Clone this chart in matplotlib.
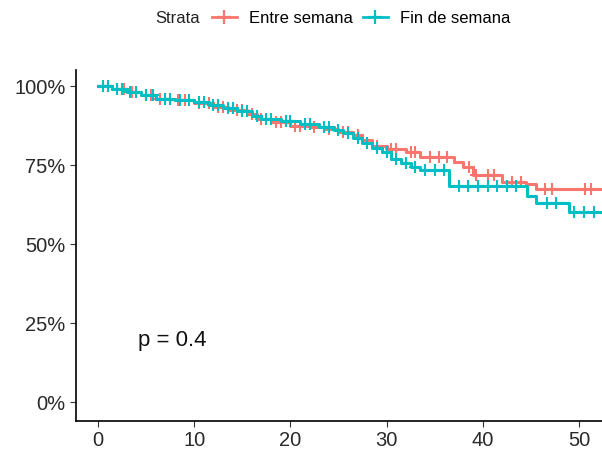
import numpy as np
import matplotlib.pyplot as plt
from matplotlib.lines import Line2D

plt.rcParams['font.family'] = ['Liberation Sans', 'DejaVu Sans']

#   Kaplan-Meier steps (time, survival)
t_entre = [0, 1.5, 3, 4.5, 6, 8, 10, 12, 13.5, 15.5, 16.5, 18, 20, 22, 23.5, 25,
           26.5, 27.5, 28.5, 30, 32, 33.5, 37, 38, 39, 42, 44.5, 45.5, 53]
s_entre = [1.0, 0.99, 0.98, 0.97, 0.96, 0.955, 0.945, 0.935, 0.925, 0.91, 0.895, 0.885,
           0.875, 0.87, 0.865, 0.855, 0.845, 0.83, 0.81, 0.80, 0.79, 0.775, 0.76, 0.745,
           0.72, 0.695, 0.69, 0.675, 0.675]
c_entre = [0.5, 1, 2, 2.7, 3.5, 4, 5, 5.5, 6.5, 7.5, 8.3, 9, 10.5, 11.5, 12.5, 13,
           14.5, 15, 16, 17, 18.5, 19, 20.5, 21, 22.5, 24, 25.5, 26, 27, 29, 30.5,
           31, 32.5, 33, 34.5, 35.5, 36.3, 38.6, 39.3, 40.5, 41.2, 43, 44, 46.5,
           47.2, 50.6, 51.3]

t_fin = [0, 1.5, 3, 4.5, 6, 8, 10, 11.5, 13, 14.5, 16, 17, 19, 21, 23, 24.5, 25.5,
         26.5, 27.5, 28.5, 29.5, 30.5, 31.5, 32.5, 33.5, 36.5, 44.6, 45.5, 49, 53]
s_fin = [1.0, 0.99, 0.98, 0.97, 0.96, 0.955, 0.95, 0.94, 0.93, 0.92, 0.905, 0.895,
         0.89, 0.88, 0.87, 0.86, 0.85, 0.835, 0.82, 0.805, 0.79, 0.77, 0.755, 0.745,
         0.735, 0.685, 0.652, 0.629, 0.60, 0.60]
c_fin = [0.5, 1, 2, 2.5, 3.3, 4, 5, 5.7, 7, 7.5, 8.5, 9.5, 10.5, 11, 12, 12.5,
         13.5, 14, 15, 15.5, 16.5, 17.5, 18, 19.5, 20, 21.5, 22, 23.5, 24, 25,
         26, 27, 28, 29, 30, 31, 32, 33, 34, 35, 36, 37.5, 38.5, 39.5, 40.5, 41.5,
         42.5, 43.5, 46.7, 47.6, 49.5, 50.5, 51.6]

red = '#F8766D'
teal = '#00BFC4'


def surv_at(times, surv, c):
    #   survival value at censor time c (step function)
    idx = np.searchsorted(times, c, side='right') - 1
    return np.array(surv)[idx]


fig = plt.figure(figsize=(6.02, 4.53), dpi=100)
ax = fig.add_axes([0.126, 0.0706, 0.874, 0.7744])

for tt, ss, cc, col in [(t_entre, s_entre, c_entre, red), (t_fin, s_fin, c_fin, teal)]:
    ax.plot(tt, ss, drawstyle='steps-post', color=col, lw=2.2)
    ax.plot(cc, [surv_at(tt, ss, c) for c in cc], '+', color=col, ms=8, mew=1.5)

ax.text(4.2, 0.196, 'p = 0.4', fontsize=16, va='center', ha='left', color='#111111')

ax.set_xlim(-2.3, 52.4)
ax.set_ylim(-0.06, 1.05)
ax.set_xticks([0, 10, 20, 30, 40, 50])
ax.set_yticks([0, 0.25, 0.5, 0.75, 1.0])
ax.set_yticklabels(['0%', '25%', '50%', '75%', '100%'])
ax.tick_params(labelsize=14.5, colors='#333333', length=4, labelcolor='#2a2a2a')
for s in ['top', 'right']:
    ax.spines[s].set_visible(False)
for s in ['left', 'bottom']:
    ax.spines[s].set_linewidth(1.2)

fig.text(155 / 602, 0.96, 'Strata', fontsize=12, va='center', ha='left', color='#222222')
handles = [Line2D([], [], color=red, lw=2, marker='+', ms=10, mew=1.6),
           Line2D([], [], color=teal, lw=2, marker='+', ms=10, mew=1.6)]
fig.legend(handles, ['Entre semana', 'Fin de semana'], loc='center left',
           bbox_to_anchor=(212 / 602, 0.96), ncol=2, frameon=False, fontsize=12,
           handlelength=1.5, columnspacing=0.55, handletextpad=0.75,
           borderpad=0, borderaxespad=0)

fig.savefig('out.png', dpi=100)
